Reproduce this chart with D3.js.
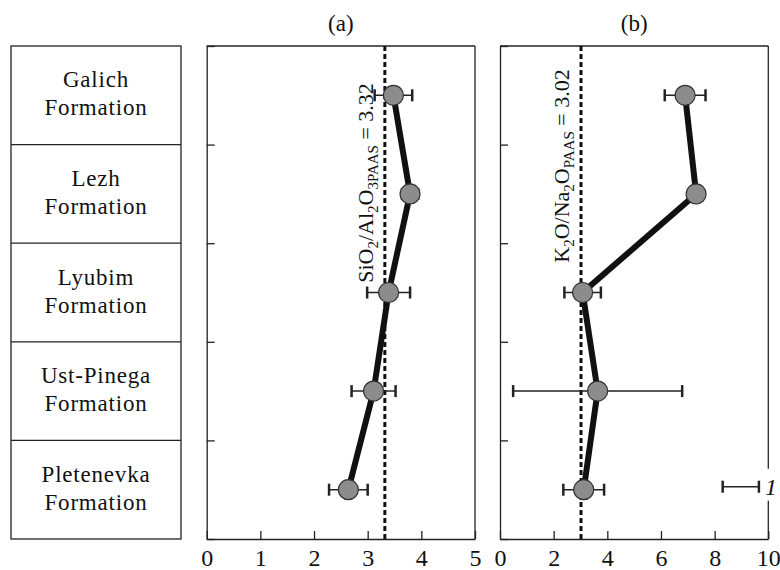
<!DOCTYPE html>
<html>
<head>
<meta charset="utf-8">
<script src="https://cdn.jsdelivr.net/npm/d3@7"></script>
<style>
  body { margin: 0; background: #fff; }
  svg text { font-family: "Liberation Serif", "Times New Roman", serif; fill: #111; }
</style>
</head>
<body>
<figure id="ratios" style="margin:0"></figure>
<script>
// formations, top to bottom
var formations = ["Galich", "Lezh", "Lyubim", "Ust-Pinega", "Pletenevka"];
// (a) SiO2/Al2O3 mean and error
var siAl = [3.48, 3.79, 3.39, 3.11, 2.64];
var siAlErr = [0.35, 0.15, 0.40, 0.41, 0.36];
// (b) K2O/Na2O mean and error
var kNa = [6.90, 7.31, 3.08, 3.64, 3.12];
var kNaErr = [0.76, 0.25, 0.68, 3.15, 0.76];
// PAAS reference values
var siAlPaas = 3.32, kNaPaas = 3.02;
var ticksA = [0, 1, 2, 3, 4, 5];
var ticksB = [0, 2, 4, 6, 8, 10];

function drawRatios() {
var width = 780, height = 570;
var yTop = 46, yBottom = 539;
var serif = "'Liberation Serif', 'Times New Roman', serif";

var svg = d3.select("figure#ratios")
  .append("svg")
    .attr("width", width)
    .attr("height", height)
    .style("font-family", serif);

svg.append("rect").attr("width", width).attr("height", height).attr("fill", "#fff");

// rows shared by all three panels
var y = d3.scaleBand().domain(formations).range([yTop, yBottom]);
var yEdge = d3.scaleLinear().domain([0, formations.length]).range([yTop, yBottom]);

// formation table on the left
var table = svg.append("g");
table.append("rect")
  .attr("x", 11).attr("y", yTop)
  .attr("width", 170).attr("height", yBottom - yTop)
  .attr("fill", "none").attr("stroke", "#222").attr("stroke-width", 1.3);
table.selectAll("line.row")
  .data(d3.range(1, formations.length))
  .enter().append("line")
    .attr("x1", 11).attr("x2", 181)
    .attr("y1", function(d) { return yEdge(d); })
    .attr("y2", function(d) { return yEdge(d); })
    .attr("stroke", "#222").attr("stroke-width", 1.3);
var names = table.selectAll("text.name")
  .data(formations)
  .enter().append("text")
    .attr("text-anchor", "middle")
    .style("font-family", serif)
    .style("font-size", "23px")
    .style("letter-spacing", "0.8px");
names.append("tspan")
  .attr("x", 96)
  .attr("y", function(d) { return y(d) + y.bandwidth() / 2 - 8; })
  .text(function(d) { return d; });
names.append("tspan")
  .attr("x", 96)
  .attr("y", function(d) { return y(d) + y.bandwidth() / 2 + 20; })
  .text("Formation");

function panel(opts) {
  var x = d3.scaleLinear().domain(opts.domain).range(opts.range);
  var g = svg.append("g");

  // axes
  var ax = g.append("g")
    .attr("transform", "translate(0," + yBottom + ")")
    .call(d3.axisBottom(x).tickValues(opts.ticks).tickFormat(d3.format("d"))
      .tickSizeInner(-8).tickSizeOuter(0).tickPadding(10));
  ax.selectAll("text").style("font-family", serif).style("font-size", "24px").attr("fill", "#111");
  ax.selectAll("line, path").attr("stroke", "#222").attr("stroke-width", 1.3);

  var ay = g.append("g")
    .attr("transform", "translate(" + opts.range[0] + ",0)")
    .call(d3.axisLeft(yEdge).ticks(formations.length).tickSizeInner(-8).tickSizeOuter(0).tickFormat(""));
  ay.selectAll("line, path").attr("stroke", "#222").attr("stroke-width", 1.3);

  // top and right border
  g.append("line")
    .attr("x1", opts.range[0]).attr("x2", opts.range[1])
    .attr("y1", yTop).attr("y2", yTop)
    .attr("stroke", "#222").attr("stroke-width", 1.3);
  g.append("line")
    .attr("x1", opts.range[1]).attr("x2", opts.range[1])
    .attr("y1", yTop).attr("y2", yBottom)
    .attr("stroke", "#222").attr("stroke-width", 1.3);

  // panel title
  g.append("text")
    .attr("x", (opts.range[0] + opts.range[1]) / 2)
    .attr("y", 31)
    .attr("text-anchor", "middle")
    .style("font-family", serif)
    .style("font-size", "23px")
    .text(opts.title);

  // PAAS line
  g.append("line")
    .attr("x1", x(opts.paas)).attr("x2", x(opts.paas))
    .attr("y1", yTop).attr("y2", yBottom)
    .attr("stroke", "#111").attr("stroke-width", 3)
    .attr("stroke-dasharray", "5,3");

  // rotated PAAS label with subscripts
  var lab = g.append("text")
    .attr("transform", "translate(" + (x(opts.paas) - 12) + "," + opts.labelY + ") rotate(-90)")
    .attr("text-anchor", "middle")
    .style("font-family", serif)
    .style("font-size", "22px");
  var shifted = false;
  opts.label.forEach(function(p) {
    var t = lab.append("tspan").text(p.t);
    if (p.sub) {
      t.style("font-size", "15px");
      if (!shifted) t.attr("dy", 5);
      shifted = true;
    } else if (shifted) {
      t.attr("dy", -5);
      shifted = false;
    }
  });

  var pts = formations.map(function(f, i) {
    return { f: f, v: opts.values[i], e: opts.errors[i] };
  });

  // connecting line
  g.append("path")
    .datum(pts)
    .attr("fill", "none")
    .attr("stroke", "#111")
    .attr("stroke-width", 6)
    .attr("d", d3.line()
      .x(function(d) { return x(d.v); })
      .y(function(d) { return y(d.f) + y.bandwidth() / 2; }));

  // error bars
  var eb = g.selectAll("g.err").data(pts).enter().append("g")
    .attr("stroke", "#222").attr("stroke-width", 1.5);
  eb.append("line")
    .attr("x1", function(d) { return x(d.v - d.e); })
    .attr("x2", function(d) { return x(d.v + d.e); })
    .attr("y1", function(d) { return y(d.f) + y.bandwidth() / 2; })
    .attr("y2", function(d) { return y(d.f) + y.bandwidth() / 2; });
  [-1, 1].forEach(function(s) {
    eb.append("line")
      .attr("stroke-width", 2.5)
      .attr("x1", function(d) { return x(d.v + s * d.e); })
      .attr("x2", function(d) { return x(d.v + s * d.e); })
      .attr("y1", function(d) { return y(d.f) + y.bandwidth() / 2 - 6; })
      .attr("y2", function(d) { return y(d.f) + y.bandwidth() / 2 + 6; });
  });

  // points
  g.selectAll("circle")
    .data(pts)
    .enter().append("circle")
      .attr("cx", function(d) { return x(d.v); })
      .attr("cy", function(d) { return y(d.f) + y.bandwidth() / 2; })
      .attr("r", 10)
      .attr("fill", "#8c8c8c")
      .attr("stroke", "#333")
      .attr("stroke-width", 1.2);

  return { g: g, x: x };
}

panel({
  title: "(a)", domain: [0, 5], range: [206.7, 475], ticks: ticksA,
  values: siAl, errors: siAlErr, paas: siAlPaas, labelY: 183,
  label: [{t: "SiO"}, {t: "2", sub: true}, {t: "/Al"}, {t: "2", sub: true}, {t: "O"}, {t: "3PAAS", sub: true}, {t: " = 3.32"}]
});

var pb = panel({
  title: "(b)", domain: [0, 10], range: [500, 768.3], ticks: ticksB,
  values: kNa, errors: kNaErr, paas: kNaPaas, labelY: 166,
  label: [{t: "K"}, {t: "2", sub: true}, {t: "O/Na"}, {t: "2", sub: true}, {t: "O"}, {t: "PAAS", sub: true}, {t: " = 3.02"}]
});

// legend: error bar = 1
var ly = y("Pletenevka") + y.bandwidth() / 2 - 3;
var leg = pb.g.append("g");
leg.append("rect")
  .attr("x", 762).attr("y", ly - 18).attr("width", 18).attr("height", 32)
  .attr("fill", "#fff");
leg.append("line")
  .attr("x1", pb.x(8.3)).attr("x2", pb.x(9.65))
  .attr("y1", ly).attr("y2", ly)
  .attr("stroke", "#222").attr("stroke-width", 1.5);
[8.3, 9.65].forEach(function(v) {
  leg.append("line")
    .attr("x1", pb.x(v)).attr("x2", pb.x(v))
    .attr("y1", ly - 6).attr("y2", ly + 6)
    .attr("stroke", "#222").attr("stroke-width", 2.5);
});
leg.append("text")
  .attr("x", 771).attr("y", ly + 8)
  .attr("text-anchor", "middle")
  .style("font-family", serif)
  .style("font-size", "24px")
  .style("font-style", "italic")
  .text("1");
}
drawRatios();
</script>
</body>
</html>
